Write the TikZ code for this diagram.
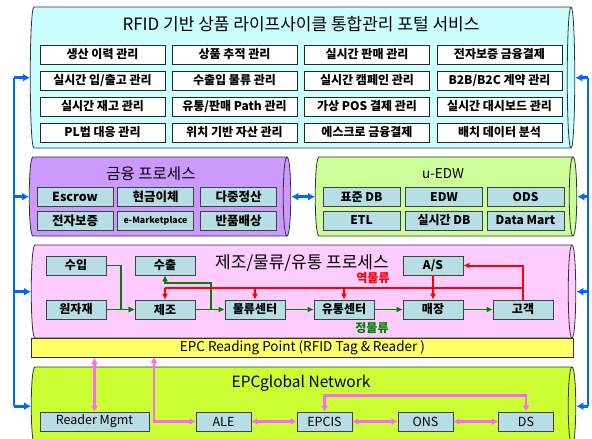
\documentclass[tikz,border=0pt]{standalone}
\usepackage{fontspec}
\setmainfont{Noto Sans CJK KR}
\usetikzlibrary{arrows.meta}
\definecolor{topfill}{RGB}{204,255,255}
\definecolor{finfill}{RGB}{204,153,255}
\definecolor{edwfill}{RGB}{204,255,153}
\definecolor{pinkfill}{RGB}{255,204,255}
\definecolor{bandfill}{RGB}{255,255,102}
\definecolor{epcfill}{RGB}{204,255,51}
\definecolor{nodefill}{RGB}{183,222,228}
\definecolor{bluel}{RGB}{0,102,255}
\definecolor{greenl}{RGB}{0,128,0}
\definecolor{redl}{RGB}{255,0,0}
\definecolor{magl}{RGB}{255,102,255}
\newcommand\cylbox[6]{%
  \node[inner sep=0,minimum width={(#4-#2)*1pt},minimum height={(#5-#3)*1pt},anchor=north west] (#1) at (#2,#3) {};
  \pgfmathsetmacro\cbA{#2+4}\pgfmathsetmacro\cbB{#2-1}\pgfmathsetmacro\cbC{#4-4}\pgfmathsetmacro\cbD{#4+1}\pgfmathsetmacro\cbE{#4-9}
  \filldraw[fill=#6,draw=black!80,line width=0.8pt] (\cbA,#3) -- (\cbC,#3) .. controls (\cbD,#3) and (\cbD,#5) .. (\cbC,#5) -- (\cbA,#5) .. controls (\cbB,#5) and (\cbB,#3) .. (\cbA,#3) -- cycle;
  \draw[black!80,line width=0.8pt] (\cbC,#3) .. controls (\cbE,#3) and (\cbE,#5) .. (\cbC,#5);
}
\tikzset{
  item/.style={draw=black!85,fill=white,line width=0.7pt,minimum width=125pt,minimum height=19pt,inner sep=0,font=\bfseries\fontsize{12}{13}\selectfont},
  sitem/.style={draw=black!75,fill=nodefill,line width=0.7pt,minimum width=76pt,minimum height=19pt,inner sep=0,font=\bfseries\fontsize{12.5}{13}\selectfont},
  pnode/.style={draw=black!75,fill=nodefill,line width=0.7pt,minimum width=60pt,minimum height=19pt,inner sep=0,font=\bfseries\fontsize{12}{13}\selectfont},
  enode/.style={draw=black!75,fill=nodefill,line width=0.7pt,minimum width=55pt,minimum height=19pt,inner sep=0,font=\fontsize{12.5}{13}\selectfont},
  title/.style={inner sep=0,font=\fontsize{17}{19}\selectfont},
  blueline/.style={draw=bluel,line width=2.6pt},
  bluearr/.style={draw=bluel,line width=2.6pt,-{Latex[length=7pt,width=8pt]}},
  garr/.style={draw=greenl,line width=1.8pt,-{Latex[length=6pt,width=6pt]}},
  rline/.style={draw=redl,line width=2pt},
  rarr/.style={draw=redl,line width=2pt,-{Latex[length=6pt,width=6pt]}},
  marr/.style={draw=magl,line width=2.4pt,{Latex[length=6pt,width=7pt]}-{Latex[length=6pt,width=7pt]}},
}
\begin{document}
\begin{tikzpicture}[x=1pt,y=-1pt]
\useasboundingbox (0,0) rectangle (592,439);
\clip (0,0) rectangle (592,439);
\fill[white] (0,0) rectangle (592,439);

% ---------- top portal box ----------
\cylbox{top}{30}{7}{575}{148}{topfill}
\node[title] (toptitle) at (301,24) {RFID 기반 상품 라이프사이클 통합관리 포털 서비스};
\node[item] (t11) at (102.5,54.5) {생산 이력 관리};
\node[item] (t12) at (234.5,54.5) {상품 추적 관리};
\node[item] (t13) at (367,54.5) {실시간 판매 관리};
\node[item] (t14) at (499.5,54.5) {전자보증 금융결제};
\node[item] (t21) at (102.5,80.5) {실시간 입/출고 관리};
\node[item] (t22) at (234.5,80.5) {수출입 물류 관리};
\node[item] (t23) at (367,80.5) {실시간 캠페인 관리};
\node[item] (t24) at (499.5,80.5) {B2B/B2C 계약 관리};
\node[item] (t31) at (102.5,106.5) {실시간 재고 관리};
\node[item] (t32) at (234.5,106.5) {유통/판매 Path 관리};
\node[item] (t33) at (367,106.5) {가상 POS 결제 관리};
\node[item] (t34) at (499.5,106.5) {실시간 대시보드 관리};
\node[item] (t41) at (102.5,132.5) {PL법 대응 관리};
\node[item] (t42) at (234.5,132.5) {위치 기반 자산 관리};
\node[item] (t43) at (367,132.5) {에스크로 금융결제};
\node[item] (t44) at (499.5,132.5) {배치 데이터 분석};

% ---------- finance box ----------
\cylbox{fin}{29}{157}{291}{236}{finfill}
\node[title,font=\fontsize{15.5}{17}\selectfont] (fintitle) at (151,174) {금융 프로세스};
\node[sitem] (f11) at (75,197) {Escrow};
\node[sitem] (f12) at (155.5,197) {현금이체};
\node[sitem] (f13) at (238.5,197) {다중정산};
\node[sitem] (f21) at (75,220.5) {전자보증};
\node[sitem,font=\bfseries\fontsize{8.8}{10}\selectfont] (f22) at (155.5,220.5) {e-Marketplace};
\node[sitem] (f23) at (238.5,220.5) {반품배상};

% ---------- u-EDW box ----------
\cylbox{edw}{315}{157}{577}{236}{edwfill}
\node[title,font=\fontsize{13.5}{16}\selectfont] (edwtitle) at (443,174) {u-EDW};
\node[sitem,minimum width=77pt,font=\bfseries\fontsize{12}{13}\selectfont] (e11) at (361.5,197) {표준 DB};
\node[sitem,minimum width=77pt,font=\bfseries\fontsize{12}{13}\selectfont] (e12) at (444,197) {EDW};
\node[sitem,minimum width=77pt,font=\bfseries\fontsize{12}{13}\selectfont] (e13) at (525.5,197) {ODS};
\node[sitem,minimum width=77pt,font=\bfseries\fontsize{12}{13}\selectfont] (e21) at (361.5,220.5) {ETL};
\node[sitem,minimum width=77pt,font=\bfseries\fontsize{12}{13}\selectfont] (e22) at (444,220.5) {실시간 DB};
\node[sitem,minimum width=77pt,font=\bfseries\fontsize{12}{13}\selectfont] (e23) at (525.5,220.5) {Data Mart};

% ---------- manufacturing / logistics box ----------
\cylbox{pink}{31}{245}{576}{338}{pinkfill}
\node[title] (pinktitle) at (302,263) {제조/물류/유통 프로세스};
\node[pnode] (imp) at (76,265.5) {수입};
\node[pnode] (raw) at (76,309.5) {원자재};
\node[pnode] (exp) at (165,265.5) {수출};
\node[pnode] (mfg) at (165,309.5) {제조};
\node[pnode] (lgc) at (255,309.5) {물류센터};
\node[pnode] (dst) at (344,309.5) {유통센터};
\node[pnode] (sto) at (433,309.5) {매장};
\node[pnode] (cus) at (523,309.5) {고객};
\node[pnode] (asv) at (433,265.5) {A/S};

% green (forward flow)
\draw[garr] (raw) -- (mfg);
\draw[garr] (imp.east) -- ++(15,0) |- (mfg.west);
\draw[garr] (mfg) -- (lgc);
\coordinate (gj) at (211,309.5);
\draw[garr] (gj) -- ++(0,-26.5) -| (exp.south);
\draw[garr] (lgc) -- (dst);
\draw[garr] (dst) -- (sto);
\draw[garr] (sto) -- (cus);
% red (reverse flow)
\coordinate (rl) at (165,288);
\coordinate (rr) at (523,288);
\draw[rline] (rl) -- (rr);
\draw[rarr] (cus.north) |- (asv.east);
\draw[rarr] (rl) -- (mfg.north);
\draw[rarr] (lgc.north |- rl) -- (lgc.north);
\draw[rarr] (dst.north |- rl) -- (dst.north);
\draw[rarr] (asv.south) -- (sto.north);
\node[inner sep=0,text=redl,font=\bfseries\fontsize{12}{13}\selectfont] (revlbl) at (373,278.5) {역물류};
\node[inner sep=0,text=greenl,font=\bfseries\fontsize{12}{13}\selectfont] (fwdlbl) at (372,328) {정물류};

% ---------- EPC reading point band ----------
\node[draw=black!80,fill=bandfill,line width=0.8pt,minimum width=542pt,minimum height=19pt,inner sep=0,anchor=north west,font=\fontsize{13.5}{15}\selectfont] (band) at (31,338) {EPC Reading Point (RFID Tag \& Reader )};

% ---------- EPCglobal network ----------
\cylbox{epc}{31}{367}{576}{445}{epcfill}
\node[title,font=\fontsize{15.5}{18}\selectfont] (epctitle) at (301,383) {EPCglobal Network};
\node[enode,minimum width=109pt] (rm) at (94.5,421.5) {Reader Mgmt};
\node[enode] (ale) at (223.5,421.5) {ALE};
\node[enode] (epcis) at (324.5,421.5) {EPCIS};
\node[enode] (ons) at (425.5,421.5) {ONS};
\node[enode] (ds) at (526,421.5) {DS};
\draw[marr] (rm.north) -- (rm.north |- band.south);
\coordinate (mb) at (154,357);
\draw[marr] (mb) |- (ale.west);
\draw[marr] (ale) -- (epcis);
\draw[marr] (epcis) -- (ons);
\draw[marr] (ons) -- (ds);
\draw[marr] (epcis.north) -- ++(0,-16) -| (ds.north);

% ---------- blue connectors ----------
\coordinate (Lx) at (14,0);
\coordinate (Rx) at (588,0);
\draw[blueline] (Lx |- top.west) -- (Lx |- epc.west);
\draw[bluearr] (Lx |- top.west) -- (top.west);
\draw[bluearr] (Lx |- fin.west) -- (fin.west);
\draw[bluearr] (Lx |- pink.west) -- (pink.west);
\draw[bluearr] (Lx |- epc.west) -- (epc.west);
\draw[blueline] (Rx |- top.east) -- (Rx |- epc.east);
\draw[bluearr] (Rx |- top.east) -- (top.east);
\draw[bluearr] (Rx |- edw.east) -- (edw.east);
\draw[bluearr] (Rx |- pink.east) -- (pink.east);
\draw[bluearr] (Rx |- epc.east) -- (epc.east);
\draw[draw=bluel,line width=2.6pt,{Latex[length=7pt,width=8pt]}-{Latex[length=7pt,width=8pt]}] (fin.east) -- (edw.west);
\end{tikzpicture}
\end{document}
